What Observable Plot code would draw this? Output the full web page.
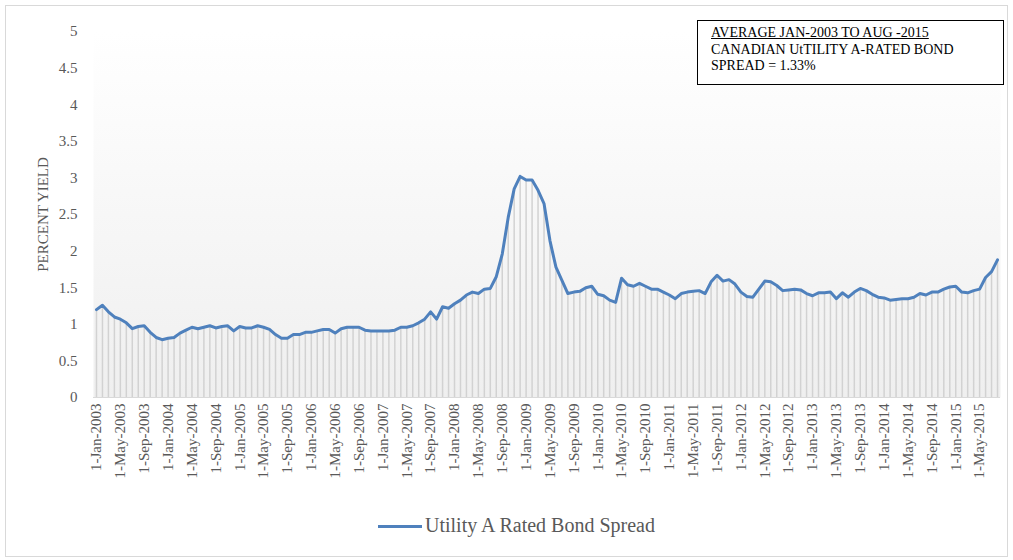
<!DOCTYPE html>
<html>
<head>
<meta charset="utf-8">
<script src="https://cdn.jsdelivr.net/npm/d3@7"></script>
<script src="https://cdn.jsdelivr.net/npm/@observablehq/plot@0.6"></script>
<style>
  body { margin: 0; background: #fff; }
  #wrap { position: relative; width: 1013px; height: 560px; font-family: "Liberation Serif", "Times New Roman", serif; }
  #border { position: absolute; left: 5px; top: 5px; width: 1003px; height: 552px; border: 1px solid #d9d9d9; box-sizing: border-box; }
  #chart { position: absolute; left: 0; top: 0; }
  #note { position: absolute; left: 697px; top: 20px; width: 307px; height: 65px; border: 1.5px solid #000; box-sizing: border-box;
          padding: 4px 0 0 13px; font-size: 14px; line-height: 16.5px; color: #000; background: #fff; }
  #note .u { text-decoration: underline; }
  #legend { position: absolute; left: 10px; top: 514px; width: 1013px; text-align: center; font-size: 20px; color: #595959; }
  #legend .sw { display: inline-block; width: 44px; height: 3px; background: #4f81bd; vertical-align: middle; margin-right: 3px; position: relative; top: -1px; }
</style>
</head>
<body>
<div id="wrap">
  <div id="border"></div>
  <div id="chart"></div>
  <div id="note"><span class="u">AVERAGE JAN-2003 TO AUG -2015</span><br>CANADIAN UtTILITY A-RATED BOND<br>SPREAD = 1.33%</div>
  <div id="legend"><span class="sw"></span>Utility A Rated Bond Spread</div>
</div>
<script>
const monthNames = ["Jan","Feb","Mar","Apr","May","Jun","Jul","Aug","Sep","Oct","Nov","Dec"];
const startYear = 2003;
const seriesName = "Utility A Rated Bond Spread";
const yTicks = [0, 0.5, 1, 1.5, 2, 2.5, 3, 3.5, 4, 4.5, 5];

const v2003 = [1.20,1.26,1.17,1.10,1.07,1.02,0.94,0.97,0.98,0.89,0.82,0.79];
const v2004 = [0.81,0.82,0.88,0.92,0.96,0.94,0.96,0.98,0.95,0.97,0.98,0.91];
const v2005 = [0.97,0.95,0.95,0.98,0.96,0.93,0.86,0.81,0.81,0.86,0.86,0.89];
const v2006 = [0.89,0.91,0.93,0.93,0.88,0.94,0.96,0.96,0.96,0.92,0.91,0.91];
const v2007 = [0.91,0.91,0.92,0.96,0.96,0.98,1.02,1.07,1.17,1.07,1.24,1.22];
const v2008 = [1.28,1.33,1.40,1.44,1.42,1.48,1.49,1.65,1.96,2.46,2.85,3.02];
const v2009 = [2.97,2.97,2.83,2.65,2.14,1.78,1.60,1.42,1.44,1.45,1.50,1.52];
const v2010 = [1.41,1.39,1.33,1.30,1.63,1.54,1.52,1.56,1.52,1.48,1.48,1.44];
const v2011 = [1.40,1.35,1.42,1.44,1.45,1.46,1.42,1.58,1.67,1.59,1.61,1.55];
const v2012 = [1.44,1.38,1.37,1.48,1.59,1.58,1.53,1.46,1.47,1.48,1.47,1.42];
const v2013 = [1.39,1.43,1.43,1.44,1.35,1.43,1.37,1.44,1.49,1.46,1.41,1.37];
const v2014 = [1.36,1.33,1.34,1.35,1.35,1.37,1.42,1.40,1.44,1.44,1.48,1.51];
const v2015 = [1.52,1.44,1.43,1.46,1.48,1.64,1.72,1.88];

const years = [v2003,v2004,v2005,v2006,v2007,v2008,v2009,v2010,v2011,v2012,v2013,v2014,v2015];

const data = [];
years.forEach((arr, yi) => arr.forEach((v, mi) => {
  data.push({ key: `1-${monthNames[mi]}-${startYear + yi}`, v });
}));
const keys = data.map(d => d.key);
const tickKeys = keys.filter((d, i) => i % 4 === 0);

const chart = Plot.plot({
  width: 1013,
  height: 500,
  marginTop: 31,
  marginBottom: 103,
  marginLeft: 93,
  marginRight: 13,
  style: { fontFamily: "'Liberation Serif', 'Times New Roman', serif", fontSize: "15px", background: "transparent", color: "#595959" },
  x: { type: "point", domain: keys, padding: 0.5 },
  y: { domain: [0, 5] },
  marks: [
    Plot.frame({ fill: "url(#bgGrad)", stroke: "none" }),
    Plot.ruleX(data, { x: "key", y1: 0, y2: "v", stroke: "#d2d2d2", strokeWidth: 1.5 }),
    Plot.ruleY([0], { stroke: "#d9d9d9", strokeWidth: 1 }),
    Plot.lineY(data, { x: "key", y: "v", stroke: "#4f81bd", strokeWidth: 3, strokeLinejoin: "round" }),
    Plot.axisX({ ticks: tickKeys, tickRotate: -90, tickSize: 0, tickPadding: 6, fontSize: 15, color: "#595959", label: null }),
    Plot.axisY({ ticks: yTicks, tickFormat: d => String(d), tickSize: 0, tickPadding: 16, fontSize: 15, color: "#595959",
                 label: "PERCENT YIELD", labelAnchor: "center", labelArrow: "none", labelOffset: 56 })
  ]
});

d3.select(chart).insert("defs", ":first-child").html(
  '<linearGradient id="bgGrad" x1="0" y1="0" x2="0" y2="1">' +
  '<stop offset="0" stop-color="#ffffff"/><stop offset="1" stop-color="#efefef"/></linearGradient>'
);
document.getElementById("chart").appendChild(chart);
</script>
</body>
</html>
